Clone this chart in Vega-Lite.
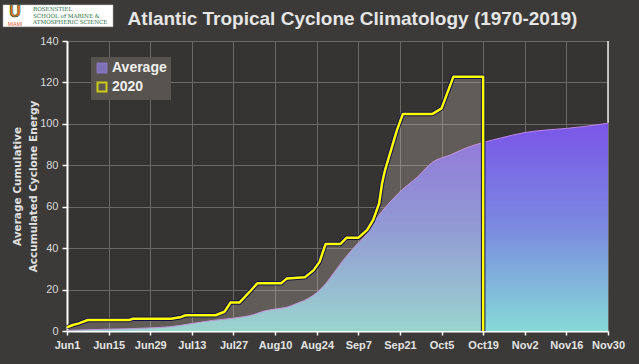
{
  "$schema": "https://vega.github.io/schema/vega-lite/v6.json",
  "width": 541,
  "height": 290,
  "autosize": {"type": "none"},
  "padding": {"left": 67, "top": 41, "right": 31, "bottom": 33},
  "background": "#3b3a38",
  "view": {"fill": "#363432", "stroke": null},
  "title": {
    "text": "Atlantic Tropical Cyclone Climatology (1970-2019)",
    "font": "Liberation Sans",
    "fontSize": 19,
    "fontWeight": "bold",
    "color": "#e6e6e6",
    "anchor": "middle",
    "frame": "group",
    "dx": 15,
    "offset": -25
  },
  "config": {
    "legend": {
      "orient": "none",
      "legendX": 24,
      "legendY": 16,
      "fillColor": "#57534f",
      "padding": 4,
      "rowPadding": 1,
      "labelFont": "Liberation Sans",
      "labelFontSize": 14,
      "labelFontWeight": "bold",
      "labelColor": "#f0f0f0",
      "symbolType": "square",
      "symbolSize": 81,
      "symbolStrokeWidth": 2,
      "labelOffset": 3
    }
  },
  "datasets": {
    "avg": [
      {"date": "2020-06-01", "ace": 0.3},
      {"date": "2020-06-08", "ace": 0.6},
      {"date": "2020-06-15", "ace": 0.9},
      {"date": "2020-06-22", "ace": 1.1},
      {"date": "2020-06-29", "ace": 1.5},
      {"date": "2020-07-06", "ace": 2.1},
      {"date": "2020-07-13", "ace": 3.6},
      {"date": "2020-07-20", "ace": 5.1},
      {"date": "2020-07-27", "ace": 6.2},
      {"date": "2020-08-03", "ace": 8.0},
      {"date": "2020-08-06", "ace": 9.5},
      {"date": "2020-08-10", "ace": 10.6},
      {"date": "2020-08-14", "ace": 11.5},
      {"date": "2020-08-18", "ace": 13.7},
      {"date": "2020-08-21", "ace": 15.6},
      {"date": "2020-08-24", "ace": 18.5},
      {"date": "2020-08-27", "ace": 22.8},
      {"date": "2020-08-30", "ace": 28.5},
      {"date": "2020-09-02", "ace": 34.3},
      {"date": "2020-09-06", "ace": 41.0},
      {"date": "2020-09-10", "ace": 47.2},
      {"date": "2020-09-13", "ace": 54.0},
      {"date": "2020-09-17", "ace": 61.2},
      {"date": "2020-09-21", "ace": 67.2},
      {"date": "2020-09-27", "ace": 74.5},
      {"date": "2020-10-02", "ace": 81.5},
      {"date": "2020-10-08", "ace": 85.0},
      {"date": "2020-10-13", "ace": 88.2},
      {"date": "2020-10-19", "ace": 91.0},
      {"date": "2020-10-25", "ace": 93.2},
      {"date": "2020-11-02", "ace": 95.8},
      {"date": "2020-11-09", "ace": 97.0},
      {"date": "2020-11-16", "ace": 97.8},
      {"date": "2020-11-23", "ace": 98.9},
      {"date": "2020-11-30", "ace": 100.3}
    ],
    "y2020": [
      {"date": "2020-06-01", "ace": 1.8, "seq": 1},
      {"date": "2020-06-03", "ace": 2.9, "seq": 2},
      {"date": "2020-06-05", "ace": 3.7, "seq": 3},
      {"date": "2020-06-08", "ace": 5.3, "seq": 4},
      {"date": "2020-06-22", "ace": 5.3, "seq": 5},
      {"date": "2020-06-23", "ace": 5.9, "seq": 6},
      {"date": "2020-07-06", "ace": 5.9, "seq": 7},
      {"date": "2020-07-09", "ace": 6.6, "seq": 8},
      {"date": "2020-07-11", "ace": 7.6, "seq": 9},
      {"date": "2020-07-21", "ace": 7.6, "seq": 10},
      {"date": "2020-07-24", "ace": 9.3, "seq": 11},
      {"date": "2020-07-26", "ace": 13.7, "seq": 12},
      {"date": "2020-07-29", "ace": 13.7, "seq": 13},
      {"date": "2020-08-02", "ace": 19.8, "seq": 14},
      {"date": "2020-08-04", "ace": 23.0, "seq": 15},
      {"date": "2020-08-12", "ace": 23.0, "seq": 16},
      {"date": "2020-08-14", "ace": 25.4, "seq": 17},
      {"date": "2020-08-20", "ace": 25.9, "seq": 18},
      {"date": "2020-08-23", "ace": 29.4, "seq": 19},
      {"date": "2020-08-25", "ace": 33.5, "seq": 20},
      {"date": "2020-08-27", "ace": 42.0, "seq": 21},
      {"date": "2020-09-01", "ace": 42.0, "seq": 22},
      {"date": "2020-09-03", "ace": 45.0, "seq": 23},
      {"date": "2020-09-07", "ace": 45.0, "seq": 24},
      {"date": "2020-09-10", "ace": 48.8, "seq": 25},
      {"date": "2020-09-12", "ace": 53.6, "seq": 26},
      {"date": "2020-09-14", "ace": 61.6, "seq": 27},
      {"date": "2020-09-15", "ace": 71.3, "seq": 28},
      {"date": "2020-09-16", "ace": 77.7, "seq": 29},
      {"date": "2020-09-20", "ace": 97.0, "seq": 30},
      {"date": "2020-09-22", "ace": 104.8, "seq": 31},
      {"date": "2020-10-02", "ace": 104.8, "seq": 32},
      {"date": "2020-10-05", "ace": 107.5, "seq": 33},
      {"date": "2020-10-09", "ace": 122.8, "seq": 34},
      {"date": "2020-10-19", "ace": 122.8, "seq": 35},
      {"date": "2020-10-19", "ace": 0, "seq": 36}
    ],
    "series": [{"series": "Average"}, {"series": "2020"}]
  },
  "layer": [
    {
      "data": {"name": "avg"},
      "mark": {
        "type": "area",
        "interpolate": "monotone",
        "color": {
          "gradient": "linear",
          "x1": 0, "y1": 1, "x2": 0, "y2": 0,
          "stops": [
            {"offset": 0, "color": "#86dad6"},
            {"offset": 0.5, "color": "#7b8ae0"},
            {"offset": 1, "color": "#7a56e8"}
          ]
        }
      },
      "encoding": {
        "x": {
          "field": "date",
          "type": "temporal",
          "scale": {"type": "utc", "domain": [1590969600000, 1606694400000], "nice": false},
          "axis": {
            "title": null,
            "values": [1590969600000, 1591574400000, 1592179200000, 1592784000000, 1593388800000, 1593993600000, 1594598400000, 1595203200000, 1595808000000, 1596412800000, 1597017600000, 1597622400000, 1598227200000, 1598832000000, 1599436800000, 1600041600000, 1600646400000, 1601251200000, 1601856000000, 1602460800000, 1603065600000, 1603670400000, 1604275200000, 1604880000000, 1605484800000, 1606089600000, 1606694400000],
            "format": "%b%-d",
            "labelExpr": "round((datum.value - 1590969600000) / 86400000) % 14 == 0 ? datum.label : ''",
            "gridOpacity": {"condition": {"test": "round((datum.value - 1590969600000) / 86400000) % 14 == 0", "value": 1}, "value": 0},
            "gridColor": "#6b6967",
            "gridWidth": 1,
            "domainColor": "#ffffff",
            "domainWidth": 2,
            "tickColor": "#ffffff",
            "tickWidth": 1.5,
            "tickSize": 4,
            "labelColor": "#e4e4e4",
            "labelFont": "Liberation Sans",
            "labelFontWeight": "bold",
            "labelFontSize": 11,
            "labelPadding": 4,
            "labelOverlap": false,
            "labelFlush": false
          }
        },
        "y": {
          "field": "ace",
          "type": "quantitative",
          "scale": {"domain": [0, 140], "nice": false},
          "axis": {
            "title": ["Average Cumulative", "Accumulated Cyclone Energy"],
            "titleFont": "DejaVu Sans",
            "titleFontWeight": "bold",
            "titleFontSize": 10.5,
            "titleColor": "#e0e0e0",
            "titleLineHeight": 16,
            "titlePadding": 1,
            "values": [0, 10, 20, 30, 40, 50, 60, 70, 80, 90, 100, 110, 120, 130, 140],
            "labelExpr": "datum.value % 20 == 0 ? datum.label : ''",
            "gridOpacity": {"condition": {"test": "datum.value % 20 == 0", "value": 1}, "value": 0},
            "gridColor": "#6b6967",
            "gridWidth": 1,
            "domainColor": "#ffffff",
            "domainWidth": 2,
            "tickColor": "#ffffff",
            "tickWidth": 1.5,
            "tickSize": 5,
            "labelColor": "#d8d8d8",
            "labelFont": "Liberation Sans",
            "labelFontSize": 11,
            "labelPadding": 4
          }
        }
      }
    },
    {
      "data": {"name": "avg"},
      "mark": {"type": "line", "interpolate": "monotone", "color": "#c084ec", "strokeWidth": 1},
      "encoding": {
        "x": {"field": "date", "type": "temporal"},
        "y": {"field": "ace", "type": "quantitative"}
      }
    },
    {
      "data": {"values": [{"k": 1}]},
      "mark": {"type": "rule", "color": "#e8e8e8", "strokeWidth": 1.5},
      "encoding": {
        "x": {"datum": 1606694400000, "type": "temporal"},
        "y": {"datum": 100.5, "type": "quantitative"},
        "y2": {"datum": 140}
      }
    },
    {
      "data": {"name": "y2020"},
      "mark": {"type": "area", "color": "#d2c6b6", "opacity": 0.28},
      "encoding": {
        "x": {"field": "date", "type": "temporal"},
        "y": {"field": "ace", "type": "quantitative"}
      }
    },
    {
      "data": {"name": "y2020"},
      "mark": {"type": "line", "color": "#14124a", "strokeWidth": 4.5, "strokeJoin": "round"},
      "encoding": {
        "x": {"field": "date", "type": "temporal"},
        "y": {"field": "ace", "type": "quantitative"},
        "order": {"field": "seq", "type": "quantitative"}
      }
    },
    {
      "data": {"name": "y2020"},
      "mark": {"type": "line", "color": "#ffff00", "strokeWidth": 2.5, "strokeJoin": "round"},
      "encoding": {
        "x": {"field": "date", "type": "temporal"},
        "y": {"field": "ace", "type": "quantitative"},
        "order": {"field": "seq", "type": "quantitative"}
      }
    },
    {
      "data": {"name": "series"},
      "transform": [{"filter": "false"}],
      "mark": {"type": "point", "shape": "square", "filled": true},
      "encoding": {
        "fill": {
          "field": "series", "type": "nominal",
          "scale": {"domain": ["Average", "2020"], "range": ["#8a7fe6", "#5f5a55"]},
          "legend": {"title": null}
        },
        "stroke": {
          "field": "series", "type": "nominal",
          "scale": {"domain": ["Average", "2020"], "range": ["#9c84ee", "#ffff00"]},
          "legend": {"title": null}
        }
      }
    },
    {
      "data": {"values": [{"k": 1}]},
      "mark": {"type": "rect", "fill": "#ffffff", "stroke": "#cfcfcf", "strokeWidth": 0.5},
      "encoding": {
        "x": {"datum": 1589112000000, "type": "temporal"},
        "x2": {"datum": 1592305200000},
        "y": {"datum": 157.4, "type": "quantitative"},
        "y2": {"datum": 146.9}
      }
    },
    {
      "data": {"values": [{"k": 1}]},
      "mark": {"type": "text", "text": "U", "font": "Liberation Sans", "fontWeight": "bold", "fontSize": 16, "fill": "#f47321", "stroke": "#0b5a32", "strokeWidth": 0.6, "baseline": "middle", "align": "center"},
      "encoding": {
        "x": {"datum": 1589457600000, "type": "temporal"},
        "y": {"datum": 154.0, "type": "quantitative"}
      }
    },
    {
      "data": {"values": [{"k": 1}]},
      "mark": {"type": "text", "text": "MIAMI", "font": "Liberation Sans", "fontSize": 5, "fill": "#e0502a", "baseline": "middle", "align": "center"},
      "encoding": {
        "x": {"datum": 1589457600000, "type": "temporal"},
        "y": {"datum": 148.3, "type": "quantitative"}
      }
    },
    {
      "data": {"values": [{"k": 1}]},
      "mark": {"type": "text", "text": "ROSENSTIEL", "font": "DejaVu Serif", "fontSize": 5.6, "fill": "#2a6e3f", "baseline": "middle", "align": "left"},
      "encoding": {
        "x": {"datum": 1589979600000, "type": "temporal"},
        "y": {"datum": 155.6, "type": "quantitative"}
      }
    },
    {
      "data": {"values": [{"k": 1}]},
      "mark": {"type": "text", "text": "SCHOOL of MARINE &", "font": "DejaVu Serif", "fontSize": 5.6, "fill": "#2a6e3f", "baseline": "middle", "align": "left"},
      "encoding": {
        "x": {"datum": 1589979600000, "type": "temporal"},
        "y": {"datum": 152.3, "type": "quantitative"}
      }
    },
    {
      "data": {"values": [{"k": 1}]},
      "mark": {"type": "text", "text": "ATMOSPHERIC SCIENCE", "font": "DejaVu Serif", "fontSize": 5.6, "fill": "#2a6e3f", "baseline": "middle", "align": "left"},
      "encoding": {
        "x": {"datum": 1589979600000, "type": "temporal"},
        "y": {"datum": 149.0, "type": "quantitative"}
      }
    }
  ]
}
